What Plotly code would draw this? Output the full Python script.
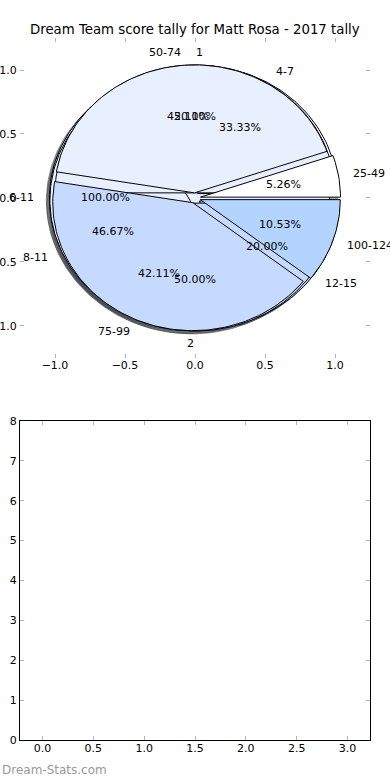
import numpy as np
import plotly.graph_objects as go

title_text = "Dream Team score tally for Matt Rosa - 2017 tally"
watermark = "Dream-Stats.com"

# ---- data (four pies drawn on the same axes, in this order) ----
pie_a_labels = ["6-11"]
pie_a_values = [1]
pie_a_colors = ["#e8f0ff"]

pie_b_labels = ["4-7", "8-11", "12-15"]
pie_b_values = [5, 7, 3]
pie_b_colors = ["#ffffff", "#e8f0ff", "#c6d9ff"]

pie_c_labels = ["1", "2"]
pie_c_values = [1, 1]
pie_c_colors = ["#e8f0ff", "#c6d9ff"]

score_labels = ["25-49", "50-74", "75-99", "100-124"]
score_values = [1, 8, 8, 2]
score_colors = ["#ffffff", "#e8f0ff", "#c6d9ff", "#b3d4ff"]

pie_ticks = [-1.0, -0.5, 0.0, 0.5, 1.0]
lower_x_ticks = [0.0, 0.5, 1.0, 1.5, 2.0, 2.5, 3.0]
lower_y_ticks = [0, 1, 2, 3, 4, 5, 6, 7, 8]

EXPLODE = 0.04
SHADOW = 0.022
FONT = "DejaVu Sans"


def hex_rgb(h):
    h = h.lstrip("#")
    return tuple(int(h[i:i + 2], 16) for i in (0, 2, 4))


def wedge_geometry(values):
    total = float(sum(values))
    t1 = 0.0
    res = []
    for v in values:
        frac = v / total
        t2 = t1 + frac * 360.0
        tm = np.deg2rad((t1 + t2) / 2.0)
        cx, cy = EXPLODE * np.cos(tm), EXPLODE * np.sin(tm)
        n = max(int((t2 - t1) / 1.5), 4)
        t = np.deg2rad(np.linspace(t1, t2, n + 1))
        if frac >= 0.999999:
            xs = cx + np.cos(t)
            ys = cy + np.sin(t)
        else:
            xs = np.concatenate([[cx], cx + np.cos(t), [cx]])
            ys = np.concatenate([[cy], cy + np.sin(t), [cy]])
        res.append(dict(xs=xs, ys=ys, cx=cx, cy=cy, tm=tm, frac=frac))
        t1 = t2
    return res


pies = [
    (pie_a_labels, pie_a_values, pie_a_colors),
    (pie_b_labels, pie_b_values, pie_b_colors),
    (pie_c_labels, pie_c_values, pie_c_colors),
    (score_labels, score_values, score_colors),
]

fig = go.Figure()
annotations = []

geoms = [wedge_geometry(vals) for _, vals, _ in pies]

# shadows first (below all wedges)
for (labels, vals, cols), gs in zip(pies, geoms):
    for g, c in zip(gs, cols):
        r, gg, b = hex_rgb(c)
        sc = "rgba(%d,%d,%d,0.5)" % (int(0.3 * r), int(0.3 * gg), int(0.3 * b))
        fig.add_trace(go.Scatter(
            x=g["xs"] - SHADOW, y=g["ys"] - SHADOW, mode="lines", fill="toself",
            fillcolor=sc, line=dict(color=sc, width=1), hoverinfo="skip",
            showlegend=False, xaxis="x", yaxis="y"))

# wedges
for (labels, vals, cols), gs in zip(pies, geoms):
    for g, c in zip(gs, cols):
        fig.add_trace(go.Scatter(
            x=g["xs"], y=g["ys"], mode="lines", fill="toself",
            fillcolor=c, line=dict(color="black", width=1), hoverinfo="skip",
            showlegend=False, xaxis="x", yaxis="y"))

# labels and percentages
for (labels, vals, cols), gs in zip(pies, geoms):
    for lab, g in zip(labels, gs):
        lx = g["cx"] + 1.1 * np.cos(g["tm"])
        ly = g["cy"] + 1.1 * np.sin(g["tm"])
        annotations.append(dict(
            x=lx, y=ly, xref="x", yref="y", text=lab, showarrow=False,
            xanchor="left" if lx > 0 else "right", yanchor="middle",
            font=dict(family=FONT, size=11, color="black"), borderpad=0))
        px = g["cx"] + 0.6 * np.cos(g["tm"])
        py = g["cy"] + 0.6 * np.sin(g["tm"])
        annotations.append(dict(
            x=px, y=py, xref="x", yref="y", text="%1.2f%%" % (g["frac"] * 100),
            showarrow=False, xanchor="center", yanchor="middle",
            font=dict(family=FONT, size=11, color="black"), borderpad=0))

# empty lower axes
fig.add_trace(go.Scatter(x=[], y=[], xaxis="x2", yaxis="y2", showlegend=False))

annotations.append(dict(
    x=0.5, y=1.0114, xref="paper", yref="paper", text=title_text, showarrow=False,
    xanchor="center", yanchor="middle", font=dict(family=FONT, size=13.3, color="black")))
annotations.append(dict(
    x=-0.057, y=-0.0427, xref="paper", yref="paper", text=watermark, showarrow=False,
    xanchor="left", yanchor="middle", font=dict(family=FONT, size=12, color="#999999")))

tick_common = dict(ticks="inside", ticklen=4, tickcolor="#b4b4b4", tickwidth=1,
                   showgrid=False, zeroline=False, automargin=False,
                   tickfont=dict(family=FONT, size=11, color="black"))

fig.update_layout(
    width=390, height=780,
    margin=dict(l=20, r=20, t=38, b=40, autoexpand=False),
    paper_bgcolor="white", plot_bgcolor="white",
    showlegend=False,
    annotations=annotations,
    xaxis=dict(domain=[0, 1], range=[-1.25, 1.25], tickvals=pie_ticks, tickformat=".1f",
               anchor="y", showline=True, linecolor="rgba(0,0,0,0)", mirror="ticks",
               fixedrange=True, ticklabelstandoff=-3, **tick_common),
    yaxis=dict(domain=[0.5442, 1], range=[-1.25, 1.25], tickvals=pie_ticks, tickformat=".1f",
               anchor="x", showline=True, linecolor="rgba(0,0,0,0)", mirror="ticks",
               fixedrange=True, **tick_common),
    xaxis2=dict(domain=[0, 1], range=[-0.22, 3.22], tickvals=lower_x_ticks, tickformat=".1f",
                anchor="y2", showline=True, linecolor="black", linewidth=1, mirror="ticks",
                fixedrange=True, ticklabelstandoff=-2, **tick_common),
    yaxis2=dict(domain=[0, 0.4544], range=[0, 8], tickvals=lower_y_ticks, tickformat="d",
                anchor="x2", showline=True, linecolor="black", linewidth=1, mirror="ticks",
                fixedrange=True, **tick_common),
)

fig.write_html("out.html", config={"displayModeBar": False},
               post_script="document.body.style.margin='0px';")
